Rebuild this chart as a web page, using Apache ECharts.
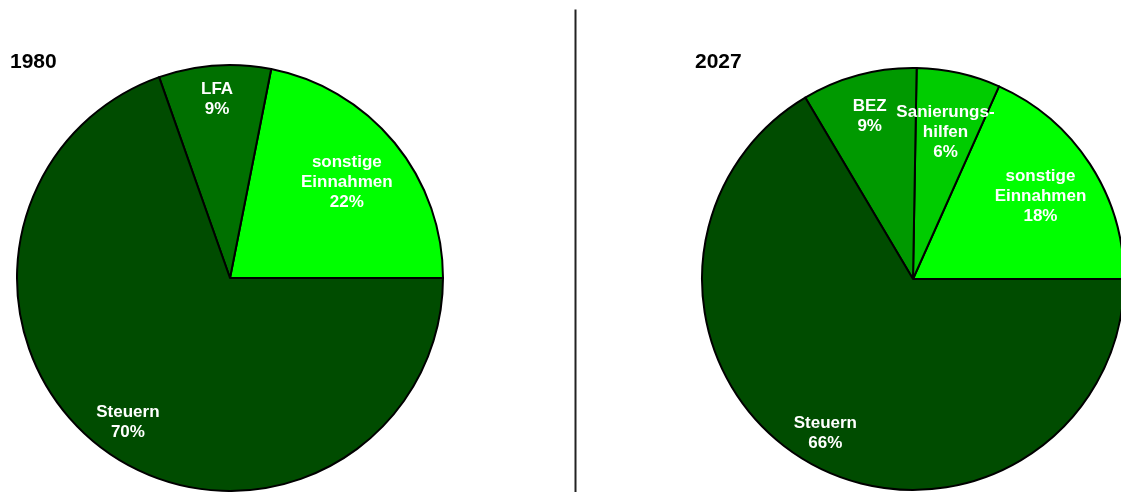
<!DOCTYPE html>
<html>
<head>
<meta charset="utf-8">
<script src="https://cdn.jsdelivr.net/npm/echarts@6/dist/echarts.min.js"></script>
<style>
  html, body { margin: 0; padding: 0; background: #fff; }
  #chart { width: 1121px; height: 492px; }
</style>
</head>
<body>
<div id="chart"></div>
<script>
// ---- data ----
const years = ['1980', '2027'];
const categories1980 = ['sonstige\nEinnahmen', 'LFA', 'Steuern'];
const values1980 = [21.9, 8.5, 69.6];
const categories2027 = ['sonstige\nEinnahmen', 'Sanierungs-\nhilfen', 'BEZ', 'Steuern'];
const values2027 = [18.3, 6.4, 8.8, 66.4];

// ---- styles ----
const colors1980 = ['#00FF00', '#007000', '#004C00'];
const colors2027 = ['#00FF00', '#00CC00', '#009900', '#004C00'];
const labelRadius1980 = [0.71, 0.84, 0.83];
const labelRadius2027 = [0.72, 0.71, 0.80, 0.84];
const centers = [[230, 278], [913, 279]];
const radii = [213, 211];
const labelRadii = [labelRadius1980, labelRadius2027];

const chart = echarts.init(document.getElementById('chart'), null, { renderer: 'canvas' });

function makeData(cats, vals, cols) {
  return cats.map((c, i) => ({ name: c, value: vals[i], itemStyle: { color: cols[i] } }));
}

function layoutFn(params) {
  const si = params.seriesIndex;
  const c = centers[si];
  const r = radii[si];
  const lr = params.labelRect;
  const lx = lr.x + lr.width / 2;
  const ly = lr.y + lr.height / 2;
  const dx = lx - c[0], dy = ly - c[1];
  const len = Math.sqrt(dx * dx + dy * dy) || 1;
  const f = labelRadii[si][params.dataIndex] * r / len;
  return { x: c[0] + dx * f, y: c[1] + dy * f, align: 'center', verticalAlign: 'middle' };
}

function pieSeries(idx, data) {
  return {
    type: 'pie',
    center: centers[idx],
    radius: radii[idx],
    startAngle: 0,
    clockwise: false,
    avoidLabelOverlap: false,
    silent: true,
    data: data,
    itemStyle: { borderColor: '#000', borderWidth: 2 },
    label: {
      show: true,
      position: 'inside',
      color: '#fff',
      fontFamily: 'Liberation Sans, Arial, sans-serif',
      fontWeight: 'bold',
      fontSize: 17,
      lineHeight: 20,
      align: 'center',
      formatter: p => p.name + '\n' + Math.round(p.value) + '%'
    },
    labelLine: { show: false },
    labelLayout: layoutFn,
    emphasis: { disabled: true }
  };
}

chart.setOption({
  animation: false,
  title: [
    { text: years[0], left: 10, top: 52, padding: 0,
      textStyle: { fontFamily: 'Liberation Sans, Arial, sans-serif', fontWeight: 'bold', fontSize: 21, color: '#000' } },
    { text: years[1], left: 695, top: 52, padding: 0,
      textStyle: { fontFamily: 'Liberation Sans, Arial, sans-serif', fontWeight: 'bold', fontSize: 21, color: '#000' } }
  ],
  graphic: [
    { type: 'line', shape: { x1: 575.5, y1: 9.5, x2: 575.5, y2: 492 },
      style: { stroke: '#222', lineWidth: 2 }, silent: true }
  ],
  series: [
    pieSeries(0, makeData(categories1980, values1980, colors1980)),
    pieSeries(1, makeData(categories2027, values2027, colors2027))
  ]
});
</script>
</body>
</html>
